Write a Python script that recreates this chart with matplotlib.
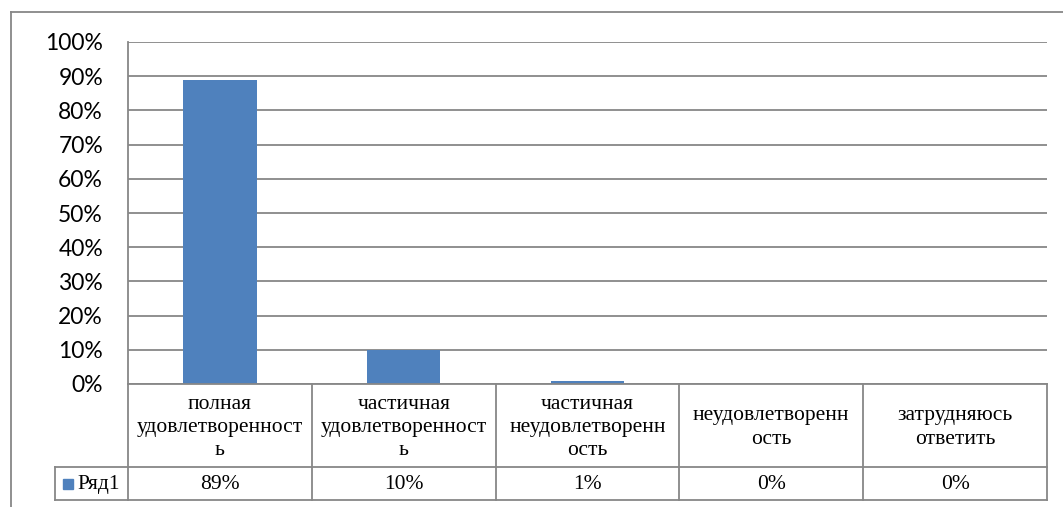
import matplotlib.pyplot as plt
from matplotlib.lines import Line2D
from matplotlib.patches import Rectangle

categories = ["полная\nудовлетворенност\nь",
              "частичная\nудовлетворенност\nь",
              "частичная\nнеудовлетворенн\nость",
              "неудовлетворенн\nость",
              "затрудняюсь\nответить"]
values = [89, 10, 1, 0, 0]
value_labels = ["89%", "10%", "1%", "0%", "0%"]
series_name = "Ряд1"
yticks = list(range(0, 101, 10))

plt.rcParams["font.serif"] = ["Liberation Serif", "DejaVu Serif"]
table_font = dict(family="serif", fontsize=15.5)

W, H = 1063, 507
bar_color = "#4F81BD"
line_color = "#878787"

fig = plt.figure(figsize=(W / 100, H / 100), dpi=100)
fig.patch.set_facecolor("white")

# plot area in pixels
left, right, top, bottom = 128, 1047, 42, 384
ax = fig.add_axes([left / W, 1 - bottom / H, (right - left) / W, (bottom - top) / H])

x = list(range(len(values)))
ax.bar(x, values, width=0.4, color=bar_color, zorder=3)
ax.set_xlim(-0.5, len(values) - 0.5)
ax.set_ylim(0, 100)
ax.set_yticks(yticks)
ax.set_yticklabels([f"{t}%" for t in yticks], family="Lato", fontsize=16.5)
ax.set_xticks([])
ax.tick_params(axis="y", length=0, pad=18)
ax.yaxis.grid(True, color=line_color, lw=1.3, zorder=0)
for s in ["top", "right", "bottom"]:
    ax.spines[s].set_visible(False)
ax.spines["left"].set_color(line_color)
ax.spines["left"].set_linewidth(1.3)

# data table below the plot area (pixel coordinates -> figure fraction)
def fx(px):
    return px / W

def fy(py):
    return 1 - py / H

row1_top, row1_bot, row2_bot = 384, 467, 500
legend_left = 55
col_w = (right - left) / len(values)
lw = 1.3

def hline(x0, x1, y):
    fig.add_artist(Line2D([fx(x0), fx(x1)], [fy(y), fy(y)], color=line_color, lw=lw))

def vline(xp, y0, y1):
    fig.add_artist(Line2D([fx(xp), fx(xp)], [fy(y0), fy(y1)], color=line_color, lw=lw))

hline(left, right, row1_top)
hline(legend_left, right, row1_bot)
hline(legend_left, right, row2_bot)
vline(legend_left, row1_bot, row2_bot)
for i in range(len(values) + 1):
    vline(left + i * col_w, row1_top, row2_bot)

for i, (cat, val) in enumerate(zip(categories, value_labels)):
    cx = left + (i + 0.5) * col_w
    fig.text(fx(cx), fy((row1_top + row1_bot) / 2 + 2), cat, ha="center", va="center",
             linespacing=1.3, **table_font)
    fig.text(fx(cx), fy((row1_bot + row2_bot) / 2 + 1), val, ha="center", va="center",
             **table_font)

# legend key in the row label cell
fig.add_artist(Rectangle((fx(63), fy(489)), fx(10), 10 / H, color=bar_color))
fig.text(fx(77), fy((row1_bot + row2_bot) / 2 + 1), series_name, ha="left", va="center",
         **table_font)

# outer chart frame
fig.add_artist(Line2D([fx(11), fx(W)], [fy(12), fy(12)], color=line_color, lw=1.3))
fig.add_artist(Line2D([fx(11), fx(11)], [fy(12), fy(H)], color=line_color, lw=1.3))

fig.savefig("out.png", dpi=100)
